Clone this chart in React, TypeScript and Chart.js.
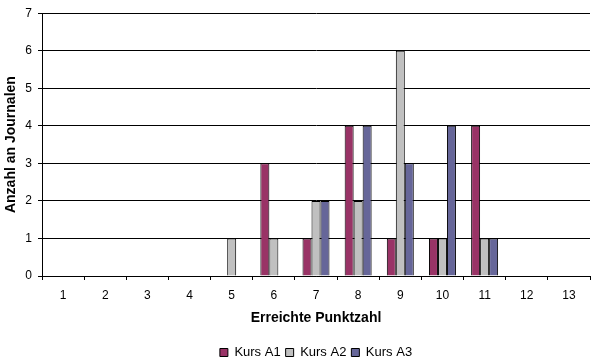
import React, { useEffect, useRef } from "react";
import { Chart, registerables } from "chart.js";

Chart.register(...registerables);

const categories = ["1", "2", "3", "4", "5", "6", "7", "8", "9", "10", "11", "12", "13"];
const kursA1 = [0, 0, 0, 0, 0, 3, 1, 4, 1, 1, 4, 0, 0];
const kursA2 = [0, 0, 0, 0, 1, 1, 2, 2, 6, 1, 1, 0, 0];
const kursA3 = [0, 0, 0, 0, 0, 0, 2, 4, 3, 4, 1, 0, 0];
const seriesNames = ["Kurs A1", "Kurs A2", "Kurs A3"];
const xTitle = "Erreichte Punktzahl";
const yTitle = "Anzahl an Journalen";

const FONT = "'Liberation Sans', Arial, sans-serif";

const centerLegendOnPlot = {
  id: "centerLegendOnPlot",
  afterLayout(chart: any) {
    const lg = chart.legend;
    if (lg && chart.chartArea) {
      lg.left = chart.chartArea.left;
      lg.right = chart.chartArea.right;
    }
  },
};

export default function App() {
  const ref = useRef<HTMLCanvasElement | null>(null);
  useEffect(() => {
    document.body.style.margin = "0";
    if (!ref.current) return;
    const chart = new Chart(ref.current, {
      type: "bar",
      data: {
        labels: categories,
        datasets: [
          { label: seriesNames[0], data: kursA1, backgroundColor: "#993366", borderColor: "#000", borderWidth: 1 },
          { label: seriesNames[1], data: kursA2, backgroundColor: "#C0C0C0", borderColor: "#000", borderWidth: 1 },
          { label: seriesNames[2], data: kursA3, backgroundColor: "#666699", borderColor: "#000", borderWidth: 1 },
        ],
      },
      plugins: [centerLegendOnPlot],
      options: {
        animation: false,
        responsive: false,
        maintainAspectRatio: false,
        layout: { padding: { top: 11, right: 6, left: 0, bottom: 0 } },
        datasets: { bar: { categoryPercentage: 0.64, barPercentage: 1 } },
        plugins: {
          tooltip: { enabled: false },
          legend: {
            position: "bottom",
            labels: {
              boxWidth: 8,
              boxHeight: 8,
              padding: 5,
              color: "#000",
              font: { family: FONT, size: 13 },
            },
          },
        },
        scales: {
          x: {
            grid: {
              offset: true,
              drawOnChartArea: true,
              color: (c: any) => (c.index === categories.length ? "#000" : "rgba(0,0,0,0)"),
              tickColor: "#000",
              tickLength: 4,
              lineWidth: 1,
            },
            border: { display: true, color: "#000" },
            ticks: { color: "#000", font: { family: FONT, size: 12 }, padding: 8, maxRotation: 0 },
            title: {
              display: true,
              text: xTitle,
              color: "#000",
              font: { family: FONT, size: 14, weight: "bold" },
              padding: { top: 0, bottom: 14 },
            },
            afterFit: (s: any) => {
              s.height = 65;
            },
          },
          y: {
            min: 0,
            max: 7,
            ticks: { stepSize: 1, color: "#000", font: { family: FONT, size: 12 }, padding: 6 },
            grid: { color: "#000", tickLength: 4, lineWidth: 1 },
            border: { display: true, color: "#000" },
            title: {
              display: true,
              text: yTitle,
              color: "#000",
              font: { family: FONT, size: 14, weight: "bold" },
              padding: { top: 3, bottom: 0 },
            },
            afterFit: (s: any) => {
              s.width = 42;
            },
          },
        },
      },
    });
    return () => chart.destroy();
  }, []);
  return (
    <div style={{ position: "absolute", left: 0, top: 0, width: 596, height: 362, overflow: "hidden", background: "#fff" }}>
      <canvas ref={ref} width={596} height={369} />
    </div>
  );
}
